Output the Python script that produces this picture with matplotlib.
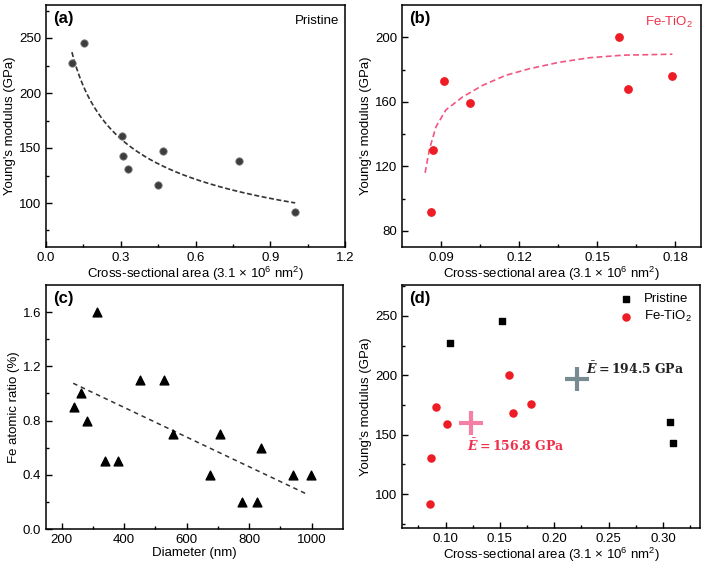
import numpy as np
import matplotlib.pyplot as plt

plt.rcParams['font.family'] = ['Liberation Sans', 'DejaVu Sans']
plt.rcParams['mathtext.fontset'] = 'custom'
plt.rcParams['mathtext.rm'] = 'Liberation Sans'
plt.rcParams['mathtext.it'] = 'Liberation Sans:italic'
plt.rcParams['mathtext.bf'] = 'Liberation Sans:bold'

# данные: чистые нанопроволоки (a)
pristine_area = [0.104, 0.152, 0.306, 0.309, 0.330, 0.450, 0.468, 0.774, 1.000]
pristine_E = [227.5, 245.8, 160.8, 142.7, 130.7, 116.0, 147.6, 138.3, 92.2]

# данные: Fe-TiO2 (b)
fe_area = [0.0862, 0.0870, 0.0913, 0.1012, 0.1585, 0.1620, 0.1790]
fe_E = [91.7, 130.0, 173.1, 159.0, 200.0, 168.0, 176.0]

# кривая аппроксимации (b)
fe_fit_x = [0.0839, 0.0855, 0.0881, 0.0919, 0.0983, 0.1060, 0.1149, 0.1240, 0.1355, 0.1470, 0.1600, 0.1790]
fe_fit_y = [116.0, 130.3, 144.6, 155.0, 163.0, 170.2, 176.4, 180.5, 184.5, 187.3, 188.9, 189.5]

# данные (c): доля Fe от диаметра
diameter = [241, 262, 281, 313, 339, 379, 452, 528, 555, 676, 707, 777, 826, 837, 939, 997]
fe_ratio = [0.9, 1.0, 0.8, 1.6, 0.5, 0.5, 1.1, 1.1, 0.7, 0.4, 0.7, 0.2, 0.2, 0.6, 0.4, 0.4]
ratio_fit_x = [237, 982]
ratio_fit_y = [1.075, 0.26]

# средние значения (d)
mean_pristine = (0.221, 196.6)
mean_fe = (0.123, 159.8)

fig = plt.figure(figsize=(7.09, 5.65), dpi=100)
ax_a = fig.add_axes([46/709, 1-247/565, 299/709, 242/565])
ax_b = fig.add_axes([402/709, 1-247/565, 299/709, 242/565])
ax_c = fig.add_axes([46/709, 1-529/565, 297/709, 244/565])
ax_d = fig.add_axes([402/709, 1-528/565, 298/709, 243/565])

fs = 9.5
for ax in (ax_a, ax_b, ax_c, ax_d):
    ax.tick_params(direction='in', which='both', labelsize=fs, top=False, right=False)
    ax.tick_params(which='major', length=4.5, width=1)
    ax.tick_params(which='minor', length=2.5, width=1)
    for s in ax.spines.values():
        s.set_linewidth(1.1)

xlab = r'Cross-sectional area (3.1 $\times$ 10$^6$ nm$^2$)'
ylab = "Young's modulus (GPa)"

# (a)
ax_a.scatter(pristine_area, pristine_E, s=28, color='#3d3d3d', edgecolors='#777777', linewidths=0.6, zorder=3)
b, lna = np.polyfit(np.log(pristine_area), np.log(pristine_E), 1)
xx = np.linspace(min(pristine_area), max(pristine_area), 200)
ax_a.plot(xx, np.exp(lna) * xx ** b, color='#333333', lw=1.2, ls=(0, (3, 1.5)))
ax_a.set_xlim(0, 1.2)
ax_a.set_ylim(60, 280)
ax_a.set_xticks(np.arange(0, 1.21, 0.3))
ax_a.set_xticks(np.arange(0.15, 1.2, 0.3), minor=True)
ax_a.set_yticks([100, 150, 200, 250])
ax_a.set_yticks([75, 125, 175, 225, 275], minor=True)
ax_a.set_xlabel(xlab, fontsize=fs, labelpad=1)
ax_a.set_ylabel(ylab, fontsize=fs, labelpad=2)
ax_a.text(0.025, 0.975, '(a)', transform=ax_a.transAxes, fontsize=12, fontweight='bold', va='top')
ax_a.text(0.98, 0.96, 'Pristine', transform=ax_a.transAxes, fontsize=fs, ha='right', va='top')

# (b)
ax_b.scatter(fe_area, fe_E, s=28, color='#ee1c25', zorder=3)
ax_b.plot(fe_fit_x, fe_fit_y, color='#f25580', lw=1.2, ls=(0, (3.5, 2)))
ax_b.set_xlim(0.075, 0.19)
ax_b.set_ylim(70, 220)
ax_b.set_xticks([0.09, 0.12, 0.15, 0.18])
ax_b.set_xticks([0.105, 0.135, 0.165], minor=True)
ax_b.set_yticks([80, 120, 160, 200])
ax_b.set_yticks([100, 140, 180], minor=True)
ax_b.set_xlabel(xlab, fontsize=fs, labelpad=1)
ax_b.set_ylabel(ylab, fontsize=fs, labelpad=2)
ax_b.text(0.025, 0.975, '(b)', transform=ax_b.transAxes, fontsize=12, fontweight='bold', va='top')
ax_b.text(0.975, 0.96, 'Fe-TiO$_2$', transform=ax_b.transAxes, fontsize=fs, ha='right', va='top', color='#f0304a')

# (c)
ax_c.scatter(diameter, fe_ratio, s=40, marker='^', color='black', zorder=3)
ax_c.plot(ratio_fit_x, ratio_fit_y, color='#333333', lw=1.1, ls=(0, (3, 2.5)))
ax_c.set_xlim(150, 1100)
ax_c.set_ylim(0, 1.8)
ax_c.set_xticks([200, 400, 600, 800, 1000])
ax_c.set_xticks([300, 500, 700, 900], minor=True)
ax_c.set_yticks([0.0, 0.4, 0.8, 1.2, 1.6])
ax_c.set_yticks([0.2, 0.6, 1.0, 1.4], minor=True)
ax_c.set_xlabel('Diameter (nm)', fontsize=fs, labelpad=1)
ax_c.set_ylabel('Fe atomic ratio (%)', fontsize=fs, labelpad=2)
ax_c.text(0.025, 0.975, '(c)', transform=ax_c.transAxes, fontsize=12, fontweight='bold', va='top')

# (d)
pa = np.array(pristine_area)
pe = np.array(pristine_E)
sel = pa < 0.32
ax_d.scatter(pa[sel], pe[sel], s=22, marker='s', color='black', zorder=3, label='Pristine')
ax_d.scatter(fe_area, fe_E, s=26, color='#ee1c25', zorder=3, label='Fe-TiO$_2$')
ax_d.plot(*mean_pristine, marker='+', ms=17, mew=3, color='#3f5a66', alpha=0.7, ls='none')
ax_d.plot(*mean_fe, marker='+', ms=17, mew=3, color='#f04a80', alpha=0.7, ls='none')
ax_d.text(0.2295, 205.6, r'$\bar{\mathbfit{E}}\mathbf{=194.5\ GPa}$', fontsize=9,
          va='center', color='#222222', math_fontfamily='dejavuserif')
ax_d.text(0.1195, 140.2, r'$\bar{\mathbfit{E}}\mathbf{=156.8\ GPa}$', fontsize=9,
          va='center', color='#f0304a', math_fontfamily='dejavuserif')
ax_d.set_xlim(0.06, 0.334)
ax_d.set_ylim(71.4, 276)
ax_d.set_xticks([0.10, 0.15, 0.20, 0.25, 0.30])
ax_d.set_xticks([0.075, 0.125, 0.175, 0.225, 0.275, 0.325], minor=True)
ax_d.set_yticks([100, 150, 200, 250])
ax_d.set_yticks([75, 125, 175, 225, 275], minor=True)
ax_d.set_xlabel(xlab, fontsize=fs, labelpad=1)
ax_d.set_ylabel(ylab, fontsize=fs, labelpad=2)
ax_d.text(0.025, 0.975, '(d)', transform=ax_d.transAxes, fontsize=12, fontweight='bold', va='top')
ax_d.legend(loc='upper right', frameon=False, fontsize=fs, handletextpad=0.8,
            borderaxespad=0.2, labelspacing=0.3, handlelength=1.2)

fig.savefig('out.png', dpi=100)
